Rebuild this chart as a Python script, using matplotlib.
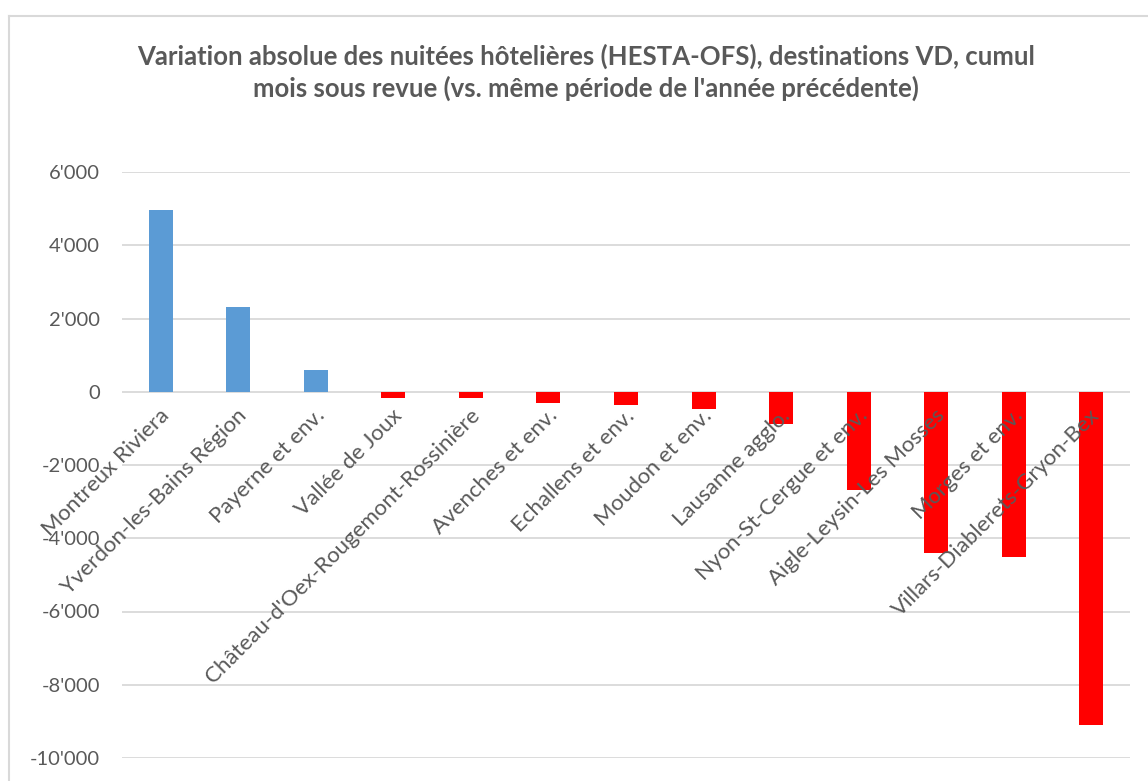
import matplotlib.pyplot as plt
from matplotlib.lines import Line2D
from matplotlib.ticker import FuncFormatter

plt.rcParams['font.family'] = ['Lato', 'DejaVu Sans']

destinations = ['Montreux Riviera', 'Yverdon-les-Bains Région', 'Payerne et env.',
                'Vallée de Joux', "Château-d'Oex-Rougemont-Rossinière", 'Avenches et env.',
                'Echallens et env.', 'Moudon et env.', 'Lausanne agglo.',
                'Nyon-St-Cergue et env.', 'Aigle-Leysin-Les Mosses', 'Morges et env.',
                'Villars-Diablerets-Gryon-Bex']
variation = [4950, 2320, 600, -160, -160, -300, -370, -480, -880, -2690, -4400, -4510, -9100]
yticks = [-10000, -8000, -6000, -4000, -2000, 0, 2000, 4000, 6000]

title = ("Variation absolue des nuitées hôtelières (HESTA-OFS), destinations VD, cumul\n"
         "mois sous revue (vs. même période de l'année précédente)")

W, H = 1148, 781
grey = '#595959'

fig = plt.figure(figsize=(W / 100, H / 100), dpi=100)
ax = fig.add_axes([122 / W, (H - 758) / H, (1130 - 122) / W, (758 - 172) / H])

colors = ['#5B9BD5' if v >= 0 else '#FF0000' for v in variation]
x = list(range(len(destinations)))
ax.bar(x, variation, width=0.31, color=colors, zorder=2)

ax.set_xlim(-0.5, len(destinations) - 0.5)
ax.set_ylim(-10000, 6000)
ax.set_yticks(yticks)
ax.yaxis.set_major_formatter(FuncFormatter(lambda v, p: f"{int(v):,}".replace(',', "'")))
ax.tick_params(axis='y', length=0, pad=16, labelsize=14.5, labelcolor=grey)
ax.set_xticks([])
ax.grid(axis='y', color='#D9D9D9', linewidth=1.3, zorder=0)
for s in ax.spines.values():
    s.set_visible(False)

# category labels sit just under the zero line, rotated 45 degrees
for i, name in enumerate(destinations):
    ax.annotate(name, (i, 0), xytext=(4, -15), textcoords='offset points',
                rotation=45, rotation_mode='anchor', ha='right', va='center',
                fontsize=16, color=grey, zorder=3)

fig.text(586 / W, 1 - 72 / H, title, ha='center', va='center', fontsize=18.5,
         fontweight='bold', color=grey, linespacing=1.3)

# chart border (only left and top visible in the crop)
fig.add_artist(Line2D([9 / W, 9 / W], [0, 1 - 16 / H], transform=fig.transFigure,
                      color='#D9D9D9', linewidth=1.5))
fig.add_artist(Line2D([9 / W, 1], [1 - 16 / H, 1 - 16 / H], transform=fig.transFigure,
                      color='#D9D9D9', linewidth=1.5))

fig.savefig('out.png', dpi=100)
